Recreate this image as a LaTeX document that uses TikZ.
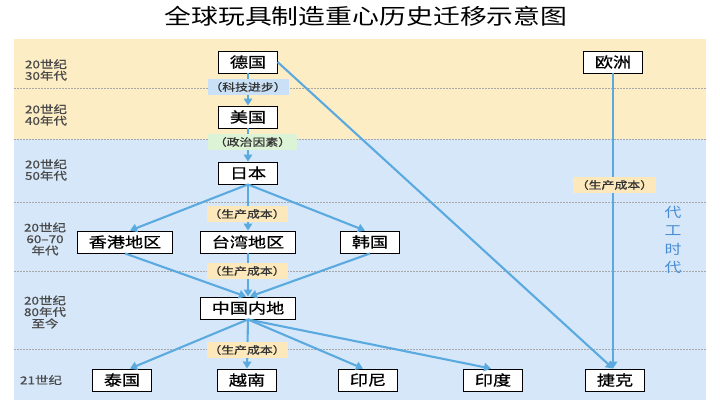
\documentclass[tikz,border=0pt]{standalone}
\usepackage{fontspec}
\setmainfont{Noto Sans CJK SC}[FakeStretch=1.25]
\newfontfamily\heavyfont{Noto Sans CJK SC}[FakeStretch=1.25, FakeBold=0.8]
\usetikzlibrary{arrows.meta}
\definecolor{bgY}{HTML}{FDEDC4}
\definecolor{bgB}{HTML}{D6E7F9}
\definecolor{tagB}{HTML}{C9E0F6}
\definecolor{tagG}{HTML}{DDF3D5}
\definecolor{tagY}{HTML}{FCE8BA}
\definecolor{arrowc}{HTML}{5AAAE0}
\definecolor{eratext}{HTML}{4A4A4A}
\definecolor{vtext}{HTML}{4A8CD4}
\definecolor{dotc}{HTML}{A8A8A8}
\tikzset{
  box/.style={draw=black, fill=white, line width=0.9pt, minimum height=22pt,
    inner xsep=11pt, inner ysep=0pt, font=\heavyfont\fontsize{14.5}{16}\selectfont},
  tag/.style={minimum width=81pt, minimum height=16pt, inner sep=0pt,
    text=black!80, font=\heavyfont\fontsize{10.3}{11}\selectfont},
  arr/.style={draw=arrowc, line width=2.1pt, -{Triangle[length=7pt,width=8.5pt]}},
  era/.style={text=eratext, align=center, font=\heavyfont\fontsize{10.8}{11.5}\selectfont},
  sep/.style={draw=dotc, line width=0.8pt, dash pattern=on 1.5pt off 1.5pt}
}
\begin{document}
\begin{tikzpicture}[x=1pt,y=-1pt]
\useasboundingbox (0,0) rectangle (720,400);
\fill[white] (0,0) rectangle (720,400);
% backgrounds
\fill[bgY] (14,39) rectangle (706,139);
\fill[bgB] (14,139) rectangle (706,400);
\foreach \yy in {88,139,202,271,349} \draw[sep] (14,\yy) -- (706,\yy);
% title
\node[font=\fontsize{21.5}{24}\selectfont] (title) at (366,16) {全球玩具制造重心历史迁移示意图};
% era labels
\node[era] (e1) at (46,70) {20世纪\\30年代};
\node[era] (e2) at (46,115) {20世纪\\40年代};
\node[era] (e3) at (46,170) {20世纪\\50年代};
\node[era] (e4) at (45,239) {20世纪\\60–70\\年代};
\node[era] (e5) at (45,312) {20世纪\\80年代\\至今};
\node[era] (e6) at (41,380) {21世纪};
\node[text=vtext, align=center, font=\fontsize{13.5}{18.5}\selectfont] (vt) at (673,240) {代\\工\\时\\代};
% nodes
\node[box] (de) at (248,62) {德国};
\node[box] (us) at (248,117) {美国};
\node[box] (jp) at (248,173) {日本};
\node[box] (eu) at (613,62) {欧洲};
\node[box] (hk) at (125,242) {香港地区};
\node[box] (tw) at (248,242) {台湾地区};
\node[box] (kr) at (370,242) {韩国};
\node[box] (cn) at (248,308) {中国内地};
\node[box] (th) at (122,380) {泰国};
\node[box] (vn) at (247,380) {越南};
\node[box] (id) at (368,380) {印尼};
\node[box] (ind) at (493,380) {印度};
\node[box] (cz) at (615,380) {捷克};
% connectors
\draw[arr] (de.south) -- (us.north);
\draw[arr] (us.south) -- (jp.north);
\draw[arr] (jp.south) -- ([xshift=5pt]hk.north);
\draw[arr] (jp.south) -- (tw.north);
\draw[arr] (jp.south) -- ([xshift=-5pt]kr.north);
\draw[arr] (hk.south) -- ([xshift=-2pt]cn.north);
\draw[arr] (tw.south) -- (cn.north);
\draw[arr] (kr.south) -- ([xshift=2pt]cn.north);
\draw[arr] (cn.south) -- ([xshift=8pt]th.north);
\draw[arr] (cn.south) -- (vn.north);
\draw[arr] (cn.south) -- ([xshift=-5pt]id.north);
\draw[arr] (cn.south) -- ([xshift=-2pt]ind.north);
\draw[arr] (de.east) -- ([xshift=-2pt]cz.north);
\draw[arr] (eu.south) -- (cz.north -| eu.south);
% tags
\node[tag, fill=tagB] (t1) at (248,87) {（科技进步）};
\node[tag, fill=tagG, minimum width=89pt] (t2) at (252.5,142) {（政治因素）};
\node[tag, fill=tagY] (t3) at (247,214) {（生产成本）};
\node[tag, fill=tagY] (t4) at (247,271) {（生产成本）};
\node[tag, fill=tagY] (t5) at (247,350) {（生产成本）};
\node[tag, fill=tagY, minimum width=83pt] (t6) at (614.5,185) {（生产成本）};
\end{tikzpicture}
\end{document}
